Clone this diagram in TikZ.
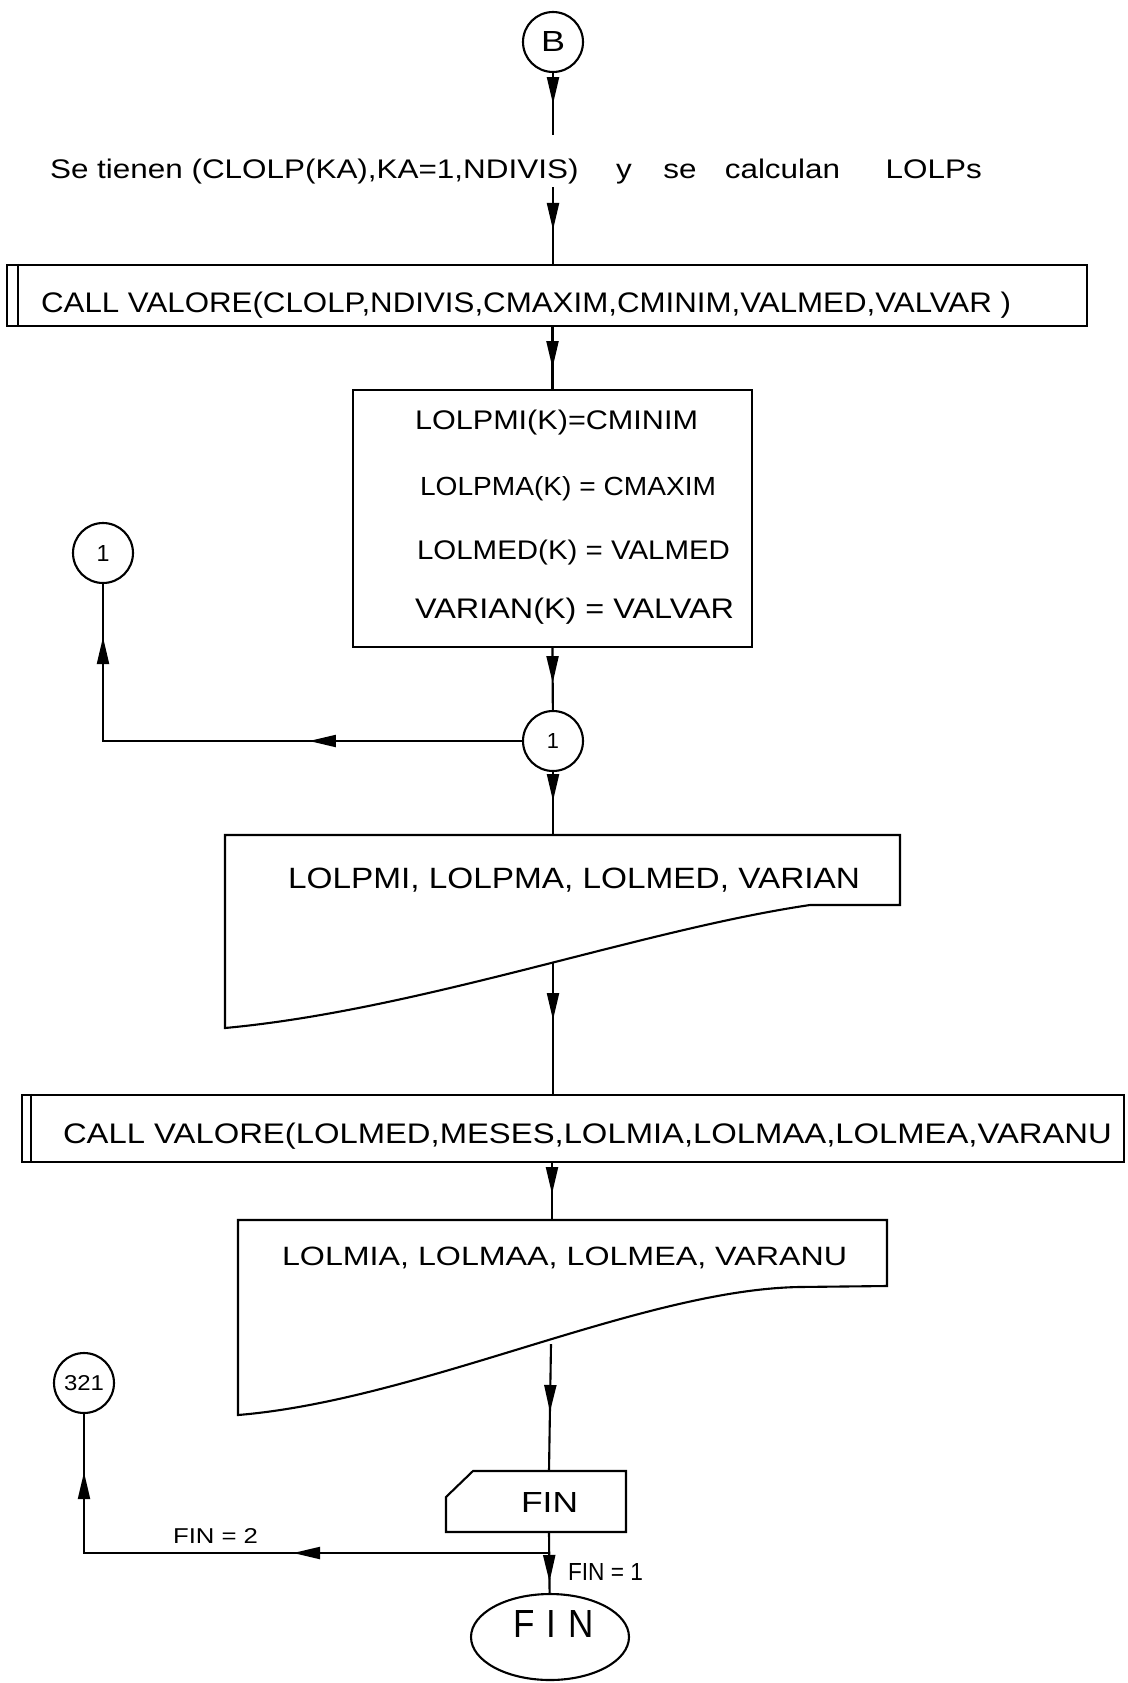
\documentclass[tikz,border=0pt]{standalone}
\usepackage{fontspec}
\setmainfont{Liberation Sans}
\usetikzlibrary{arrows.meta,decorations.markings,shapes.geometric,calc}
\newcommand{\fitt}[3]{\resizebox{#1}{#2}{#3}}
\tikzset{
  myhead/.tip={Triangle[length=0.54cm,width=0.24cm]},
  arr/.style={postaction={decorate},decoration={markings,mark=at position #1 with {\arrow{myhead}}}},
  arrtwo/.style 2 args={postaction={decorate},decoration={markings,mark=at position #1 with {\arrow{myhead}},mark=at position #2 with {\arrow{myhead}}}},
  conn/.style={draw,circle,inner sep=0pt,minimum size=1.2cm},
  boxx/.style={draw,rectangle,inner sep=0pt},
  txt/.style={inner sep=0pt,anchor=base west},
}
\begin{document}
\begin{tikzpicture}[x=0.02cm,y=-0.02cm,line width=1.2pt,font=\fontsize{16}{18}\selectfont]
\useasboundingbox (0,0) rectangle (1128,1683);

% connector circles
\node[conn] (B) at (553,42) {\fitt{0.48cm}{0.40cm}{B}};
\node[conn] (c1m) at (553,741) {\resizebox{!}{0.30cm}{1}};
\node[conn] (c1l) at (103,553) {\resizebox{!}{0.32cm}{1}};
\node[conn] (c321) at (84,1383) {\fitt{0.8cm}{0.30cm}{321}};

% first text line
\node[txt] (t0) at (49,178) {\fitt{18.64cm}{0.39cm}{Se tienen (CLOLP(KA),KA=1,NDIVIS)\hspace{1.2em}y\hspace{1em}se\hspace{0.9em}calculan\hspace{1.45em}LOLPs}};
\coordinate (t1) at (553,135);
\coordinate (t2) at (553,187);

% CALL box 1
\node[boxx,minimum width=21.6cm,minimum height=1.22cm] (call1) at (547,295.5) {};
\draw ($(call1.north west)+(12,0)$) -- ($(call1.south west)+(12,0)$);
\node[txt] (call1t) at (40,312) {\fitt{19.4cm}{0.41cm}{CALL VALORE(CLOLP,NDIVIS,CMAXIM,CMINIM,VALMED,VALVAR )}};

% process box
\node[boxx,minimum width=7.98cm,minimum height=5.14cm] (proc) at (552.5,518.5) {};
\node[txt] (p1) at (414,429) {\fitt{5.66cm}{0.39cm}{LOLPMI(K)=CMINIM}};
\node[txt] (p2) at (419,495) {\fitt{5.92cm}{0.38cm}{LOLPMA(K) = CMAXIM}};
\node[txt] (p3) at (416,559) {\fitt{6.26cm}{0.39cm}{LOLMED(K) = VALMED}};
\node[txt] (p4) at (414,618) {\fitt{6.38cm}{0.41cm}{VARIAN(K) = VALVAR}};

% output 1
\draw (225,835) -- (900,835) -- (900,905) -- (810,905) .. controls (640,930) and (420,1010) .. (225,1028) -- cycle;
\node[txt] (o1t) at (287,888) {\fitt{11.44cm}{0.41cm}{LOLPMI, LOLPMA, LOLMED, VARIAN}};
\coordinate (o1top) at (553,835);
\coordinate (o1bot) at (553,962);

% CALL box 2
\node[boxx,minimum width=22.04cm,minimum height=1.34cm] (call2) at (573,1128.5) {};
\draw ($(call2.north west)+(10,0)$) -- ($(call2.south west)+(10,0)$);
\node[txt] (call2t) at (62,1143) {\fitt{20.98cm}{0.41cm}{CALL VALORE(LOLMED,MESES,LOLMIA,LOLMAA,LOLMEA,VARANU}};

% output 2
\draw (238,1220) -- (887,1220) -- (887,1286) -- (799,1287) .. controls (640,1290) and (420,1400) .. (238,1415) -- cycle;
\node[txt] (o2t) at (281,1265) {\fitt{11.3cm}{0.37cm}{LOLMIA, LOLMAA, LOLMEA, VARANU}};
\coordinate (o2top) at (552,1220);
\coordinate (o2bot) at (551,1344);

% FIN decision box
\draw (473,1471) -- (626,1471) -- (626,1532) -- (446,1532) -- (446,1497) -- cycle;
\node[txt] (fint0) at (520,1512) {\fitt{1.14cm}{0.40cm}{FIN}};
\coordinate (fint) at (549,1471);
\coordinate (finb) at (549,1532);
\coordinate (j) at (549,1553);

% end
\node[draw,ellipse,inner sep=0pt,minimum width=3.16cm,minimum height=1.72cm] (endn) at (550,1637) {};
\node[txt] (endt) at (512,1637) {\fitt{1.62cm}{0.54cm}{F\hspace{0.35em}I\hspace{0.35em}N}};

\node[txt] (l2) at (172,1543) {\fitt{1.7cm}{0.30cm}{FIN = 2}};
\node[txt] (l1) at (567,1580) {\fitt{1.5cm}{0.34cm}{FIN = 1}};

% connectors
\draw[arr=0.62cm] (B) -- (t1);
\draw[arr=0.86cm] (t2) -- (t2 |- call1.north);
\draw[arr=0.82cm] (proc.north |- call1.south) -- (proc.north);
\draw[arr=0.70cm] (proc.south) -- (c1m);
\coordinate (k1) at (c1l |- c1m);
\draw[arrtwo={4.26cm}{10.46cm}] (c1m.west) -- (k1) -- (c1l.south);
\draw[arr=0.58cm] (c1m) -- (o1top);
\draw[arr=1.16cm] (o1bot) -- (o1bot |- call2.north);
\draw[arr=0.62cm] (o2top |- call2.south) -- (o2top);
\draw[arr=1.36cm] (o2bot) -- (fint);
\draw[arr=1.0cm] (finb) -- (endn);
\coordinate (k2) at (c321 |- j);
\draw[arrtwo={5.12cm}{10.92cm}] (j) -- (k2) -- (c321.south);
\end{tikzpicture}
\end{document}
